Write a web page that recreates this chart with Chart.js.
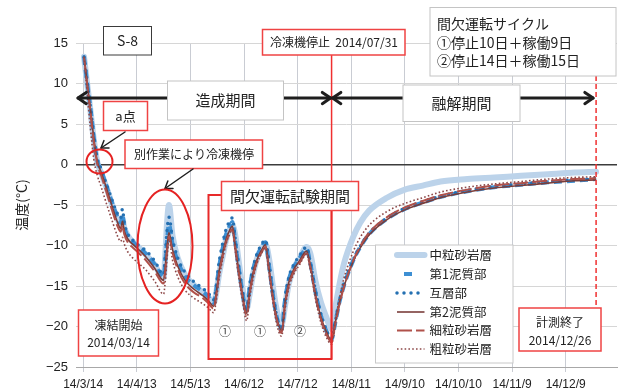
<!DOCTYPE html>
<html>
<head>
<meta charset="utf-8">
<script src="https://cdn.jsdelivr.net/npm/chart.js@4/dist/chart.umd.min.js"></script>
<style>
html,body{margin:0;padding:0;background:#fff;}
canvas{display:block;}
</style>
</head>
<body>
<canvas id="c" width="618" height="391"></canvas>
<script>
// Days elapsed since freezing start (2014/03/14)
const days = [0.5,2,4,6,8, 10,13,16,19,21, 22,23,25,28,31, 35,40,45,46,47, 48,50,53,57,62,
  67,70,73,74.5,76, 78,80,82,83.5,85, 87,89,91.5,93,95, 97,99.5,102,104,106,
  108,111,113,115,117.5, 121,125,127,130,133, 136,139,141,143.5,146,
  151,155,160,170,180, 190,200,215,230,245, 260,275,287];

// Temperature (°C) per layer
const chuuryuSagan = [13.3,10.4,6.8,3.0,0.2, -1.0,-2.8,-4.8,-6.6,-7.4, -6.8,-7.8,-8.8,-9.6,-10.2,
  -11.1,-12.4,-14.0,-11.0,-7.0, -5.0,-8.8,-11.6,-13.6,-14.9, -15.8,-16.4,-17.1,-15.8,-13.6,
  -11.4,-9.3,-8.0,-7.5,-8.6, -11.9,-15.0,-17.8,-16.2,-13.6, -11.8,-10.5,-9.8,-11.6,-14.8,
  -17.6,-19.8,-17.4,-14.8,-13.0, -11.6,-10.2,-10.9,-14.4,-17.0, -18.8,-20.3,-17.8,-14.7,-12.2,
  -9.0,-7.2,-5.7,-4.1,-3.1, -2.6,-2.1,-1.8,-1.6,-1.4, -1.2,-1.0,-0.9];
const deishitsu1 = [13.3,10.5,7.1,3.3,0.4, -0.7,-2.6,-4.6,-6.4,-7.2, -6.2,-7.6,-8.9,-9.6,-10.2,
  -11.0,-12.3,-13.9,-11.8,-9.2, -7.4,-9.8,-12.0,-13.8,-14.9, -15.7,-16.3,-17.1,-15.4,-12.7,
  -10.4,-8.6,-7.6,-7.1,-9.4, -12.7,-15.6,-18.3,-15.5,-13.1, -11.5,-10.3,-9.6,-12.5,-15.8,
  -18.5,-20.4,-16.7,-14.3,-12.8, -11.6,-10.4,-12.1,-15.8,-18.6, -20.5,-21.6,-19.6,-16.9,-14.9,
  -11.9,-10.2,-8.6,-6.7,-5.5, -4.7,-4.0,-3.3,-2.8,-2.5, -2.2,-2.0,-1.8];
const gosoubu = [13.3,10.6,7.2,3.5,0.6, -0.5,-2.4,-4.3,-6.0,-6.6, -5.5,-7.2,-8.6,-9.4,-10.0,
  -10.6,-11.9,-13.6,-11.0,-8.0, -6.5,-9.2,-11.6,-13.3,-14.5, -15.3,-15.9,-16.7,-15.0,-12.2,
  -9.8,-8.0,-7.0,-6.6,-9.0, -12.5,-15.5,-18.2,-15.2,-12.8, -11.2,-10.0,-9.3,-12.3,-15.6,
  -18.4,-20.4,-16.5,-14.0,-12.5, -11.3,-10.2,-12.0,-15.6,-18.5, -20.4,-21.5,-19.5,-16.8,-14.7,
  -11.8,-10.1,-8.5,-6.6,-5.4, -4.6,-3.9,-3.2,-2.7,-2.4, -2.1,-1.9,-1.8];
const deishitsu2 = [13.3,10.5,7.0,3.2,0.3, -0.9,-2.9,-5.0,-7.0,-7.9, -7.0,-8.2,-9.2,-9.9,-10.5,
  -11.4,-12.8,-14.3,-12.5,-10.0, -8.4,-10.5,-12.6,-14.3,-15.4, -16.2,-16.8,-17.5,-15.8,-13.2,
  -11.0,-9.2,-8.1,-7.6,-9.8, -13.0,-15.8,-18.4,-15.8,-13.4, -11.9,-10.7,-9.9,-12.8,-16.0,
  -18.6,-20.5,-16.9,-14.6,-13.1, -11.9,-10.7,-12.3,-16.0,-18.8, -20.6,-21.7,-19.6,-17.0,-15.0,
  -12.0,-10.3,-8.7,-6.8,-5.6, -4.8,-4.1,-3.4,-2.9,-2.6, -2.3,-2.0,-1.9];
const sairyuSagan = [13.3,10.3,6.6,2.7,0.0, -1.3,-3.4,-5.5,-7.5,-8.3, -7.5,-8.6,-9.6,-10.3,-10.9,
  -11.8,-13.2,-14.7,-13.0,-10.6, -8.9,-10.9,-13.0,-14.7,-15.8, -16.5,-17.1,-17.8,-16.2,-13.7,
  -11.4,-9.6,-8.5,-8.0,-10.2, -13.3,-16.1,-18.7,-16.2,-13.8, -12.2,-11.0,-10.2,-13.1,-16.3,
  -18.9,-20.8,-17.3,-15.0,-13.4, -12.2,-11.0,-12.6,-16.3,-19.1, -20.9,-22.0,-19.8,-17.2,-15.1,
  -11.9,-10.1,-8.4,-6.5,-5.3, -4.5,-3.8,-3.1,-2.6,-2.3, -2.0,-1.8,-1.7];
const soryuSagan = [13.3,9.5,4.6,0.6,-1.4, -2.7,-4.8,-6.8,-8.7,-9.5, -9.0,-9.8,-10.8,-11.6,-12.2,
  -13.0,-14.4,-16.0,-14.3,-11.5, -9.2,-11.8,-13.9,-15.5,-16.5, -17.2,-17.7,-18.3,-16.8,-14.2,
  -11.8,-9.8,-8.6,-8.0,-10.5, -13.8,-16.6,-19.3,-16.8,-14.2, -12.4,-11.1,-10.3,-13.4,-16.7,
  -19.4,-21.2,-17.8,-15.3,-13.7, -12.4,-11.1,-12.8,-16.6,-19.5, -21.3,-22.2,-19.4,-16.4,-14.0,
  -10.8,-9.0,-7.5,-5.8,-4.8, -4.1,-3.4,-2.8,-2.4,-2.1, -1.8,-1.6,-1.5];

// Date axis: one tick every 30 days
const tickDays = [0,30,60,90,120,150,180,210,240,270];
const tickLabels = ["14/3/14","14/4/13","14/5/13","14/6/12","14/7/12","14/8/11","14/9/10","14/10/10","14/11/9","14/12/9"];

// Key dates (days since start)
const freezerStopDay = 139;   // 2014/07/31
const measureEndDay = 287;    // 2014/12/26

const JP = '"Noto Sans CJK JP", "Noto Sans", sans-serif';
const LAT = '"Liberation Sans", Arial, sans-serif';

const pts = vals => days.map((d, i) => ({x: d, y: vals[i]}));
const base = {pointRadius: 0, fill: false, cubicInterpolationMode: 'monotone', borderJoinStyle: 'round'};

const datasets = [
  {...base, label: '中粒砂岩層', data: pts(chuuryuSagan), borderColor: '#bcd3ea', borderWidth: 6, borderCapStyle: 'round', order: 6},
  {...base, label: '第1泥質部', data: pts(deishitsu1), borderColor: '#3d8fd3', borderWidth: 4, borderDash: [8, 5], borderCapStyle: 'butt', order: 5},
  {...base, label: '互層部', data: pts(gosoubu), borderColor: '#2470b2', borderWidth: 3.5, borderDash: [0, 7], borderCapStyle: 'round', order: 4},
  {...base, label: '第2泥質部', data: pts(deishitsu2), borderColor: '#7a3d3a', borderWidth: 1.6, order: 3},
  {...base, label: '細粒砂岩層', data: pts(sairyuSagan), borderColor: '#b0514a', borderWidth: 2, borderDash: [15, 4], order: 2},
  {...base, label: '粗粒砂岩層', data: pts(soryuSagan), borderColor: '#8d4848', borderWidth: 1.6, borderDash: [1.6, 2.2], order: 1}
];

function box(ctx, x1, y1, x2, y2, stroke, lw, fill) {
  ctx.save();
  if (fill) { ctx.fillStyle = fill; ctx.fillRect(x1, y1, x2 - x1, y2 - y1); }
  ctx.strokeStyle = stroke; ctx.lineWidth = lw;
  ctx.strokeRect(x1, y1, x2 - x1, y2 - y1);
  ctx.restore();
}
function text(ctx, s, x, y, size, align, color) {
  ctx.save();
  ctx.font = size + 'px ' + JP;
  ctx.fillStyle = color || '#222';
  ctx.textAlign = align || 'center';
  ctx.textBaseline = 'middle';
  ctx.fillText(s, x, y);
  ctx.restore();
}
function head(ctx, tx, ty, fx, fy, len, ang) {
  const a = Math.atan2(ty - fy, tx - fx);
  ctx.beginPath();
  ctx.moveTo(tx - len * Math.cos(a - ang), ty - len * Math.sin(a - ang));
  ctx.lineTo(tx, ty);
  ctx.lineTo(tx - len * Math.cos(a + ang), ty - len * Math.sin(a + ang));
  ctx.stroke();
}
function arrow(ctx, x1, y1, x2, y2, lw, both, len) {
  ctx.save();
  ctx.strokeStyle = '#1e1e1e'; ctx.lineWidth = lw; ctx.lineCap = 'round'; ctx.lineJoin = 'round';
  ctx.beginPath(); ctx.moveTo(x1, y1); ctx.lineTo(x2, y2); ctx.stroke();
  head(ctx, x2, y2, x1, y1, len, 0.6);
  if (both) head(ctx, x1, y1, x2, y2, len, 0.6);
  ctx.restore();
}
function ellipse(ctx, cx, cy, rx, ry) {
  ctx.save();
  ctx.strokeStyle = '#e52222'; ctx.lineWidth = 2;
  ctx.beginPath(); ctx.ellipse(cx, cy, rx, ry, 0, 0, Math.PI * 2); ctx.stroke();
  ctx.restore();
}

const RED = '#ef4343';
const notes = {
  id: 'notes',
  afterDatasetsDraw(chart) {
    const ctx = chart.ctx;
    const xs = chart.scales.x, ys = chart.scales.y;
    const xStop = xs.getPixelForValue(freezerStopDay);
    const xEnd = xs.getPixelForValue(measureEndDay);
    const yArrow = ys.getPixelForValue(8.2);

    // freezer stop line and end-of-measurement line
    ctx.save();
    ctx.strokeStyle = '#f03030'; ctx.lineWidth = 1.5;
    ctx.beginPath(); ctx.moveTo(xStop, 55); ctx.lineTo(xStop, 359); ctx.stroke();
    ctx.setLineDash([5, 3]);
    ctx.beginPath(); ctx.moveTo(xEnd, 76); ctx.lineTo(xEnd, 308); ctx.stroke();
    ctx.restore();

    // period arrows
    arrow(ctx, chart.chartArea.left + 2, yArrow, xStop - 1, yArrow, 3, true, 10);
    arrow(ctx, xStop + 1, yArrow, xEnd - 3, yArrow, 3, true, 10);
    box(ctx, 167.5, 81, 283.5, 120, '#c4c4c4', 1, '#fff');
    text(ctx, '造成期間', 225.5, 100.5, 15);
    box(ctx, 403, 85, 520, 121.5, '#c4c4c4', 1, '#fff');
    text(ctx, '融解期間', 461.5, 103.5, 15);

    // labels at top
    box(ctx, 103.5, 26.5, 151.5, 55, '#3a3a3a', 1, '#fff');
    text(ctx, 'S-8', 127.5, 41, 14);
    box(ctx, 262.5, 29.5, 405, 55, RED, 1.5, '#fff');
    text(ctx, '冷凍機停止  2014/07/31', 334, 42.5, 12);
    box(ctx, 430, 7.5, 616, 76, '#c4c4c4', 1, '#fff');
    text(ctx, '間欠運転サイクル', 437, 24, 14, 'left');
    text(ctx, '①停止10日＋稼働9日', 437, 42.5, 14, 'left');
    text(ctx, '②停止14日＋稼働15日', 437, 61, 14, 'left');

    // point a
    box(ctx, 103.5, 101.5, 147.5, 130.5, RED, 1.5, '#fff');
    text(ctx, 'a点', 125.5, 116, 13);
    arrow(ctx, 125, 132, 101, 148, 1.5, false, 8);
    ellipse(ctx, 99.5, 161.5, 13, 12);

    // refrigerator stopped by other work
    box(ctx, 125, 140, 262.5, 168.5, RED, 1.5, '#fff');
    text(ctx, '別作業により冷凍機停', 194, 154.5, 12);
    arrow(ctx, 193, 169, 165, 188.5, 1.5, false, 8);
    ellipse(ctx, 165, 246.5, 27.5, 57);

    // intermittent operation test period
    ctx.save();
    ctx.strokeStyle = '#e82a2a'; ctx.lineWidth = 2;
    ctx.strokeRect(208.5, 195, 123, 164);
    ctx.restore();
    box(ctx, 221.5, 181.5, 358.5, 210.5, RED, 1.5, '#fff');
    text(ctx, '間欠運転試験期間', 290, 196.5, 15);
    text(ctx, '①', 225, 331.5, 12, 'center', '#444');
    text(ctx, '①', 260, 331.5, 12, 'center', '#444');
    text(ctx, '②', 300, 331.5, 12, 'center', '#444');

    // start / end boxes
    box(ctx, 78.5, 310, 158.5, 356, RED, 1.5, '#fff');
    text(ctx, '凍結開始', 118.5, 325, 12);
    text(ctx, '2014/03/14', 118.5, 342, 12);
    box(ctx, 519, 308, 601, 351, RED, 1.5, '#fff');
    text(ctx, '計測終了', 560, 322.5, 12);
    text(ctx, '2014/12/26', 560, 340, 12);

    // legend
    box(ctx, 375.5, 245, 513, 363, '#c8c8c8', 1, '#fff');
    const ly = [255, 274, 293, 312, 330.5, 349];
    chart.data.datasets.forEach((ds, i) => {
      ctx.save();
      ctx.strokeStyle = ds.borderColor;
      ctx.lineWidth = ds.borderWidth;
      ctx.lineCap = ds.borderCapStyle || 'butt';
      ctx.setLineDash(ds.borderDash || []);
      ctx.beginPath();
      if (i === 1) { ctx.moveTo(404, ly[i]); ctx.lineTo(414, ly[i]); }
      else { ctx.moveTo(397, ly[i]); ctx.lineTo(424.5, ly[i]); }
      ctx.stroke();
      ctx.restore();
      text(ctx, ds.label, 429.5, ly[i], 12.5, 'left');
    });
  }
};

new Chart(document.getElementById('c'), {
  type: 'line',
  data: {datasets},
  options: {
    responsive: false,
    animation: false,
    layout: {padding: {top: 43, right: 1, left: 0, bottom: 0}},
    plugins: {legend: {display: false}, tooltip: {enabled: false}},
    scales: {
      x: {
        type: 'linear', min: -4, max: 298.7,
        afterBuildTicks: s => { s.ticks = tickDays.map(v => ({value: v})); },
        afterFit: s => { s.height = 24; },
        ticks: {
          autoSkip: false, maxRotation: 0, padding: 5, color: '#222',
          font: {family: LAT, size: 12},
          callback: v => tickLabels[tickDays.indexOf(v)]
        },
        grid: {color: '#c9ccd3', lineWidth: 1, tickLength: 5},
        border: {color: '#a8a8a8'}
      },
      y: {
        min: -25, max: 15,
        afterFit: s => { s.width = 76; },
        ticks: {
          stepSize: 5, padding: 8, color: '#222',
          font: {family: LAT, size: 13},
          callback: v => v < 0 ? '\u2212' + Math.abs(v) : String(v)
        },
        grid: {
          drawTicks: false,
          color: c => c.tick && c.tick.value === 0 ? '#3c3c3c' : '#d6d6d6',
          lineWidth: c => c.tick && c.tick.value === 0 ? 1.5 : 1
        },
        border: {display: false},
        title: {display: true, text: '温度(°C)', color: '#222', font: {family: JP, size: 14}, padding: {top: 13, bottom: 0}}
      }
    }
  },
  plugins: [notes]
});
</script>
</body>
</html>
